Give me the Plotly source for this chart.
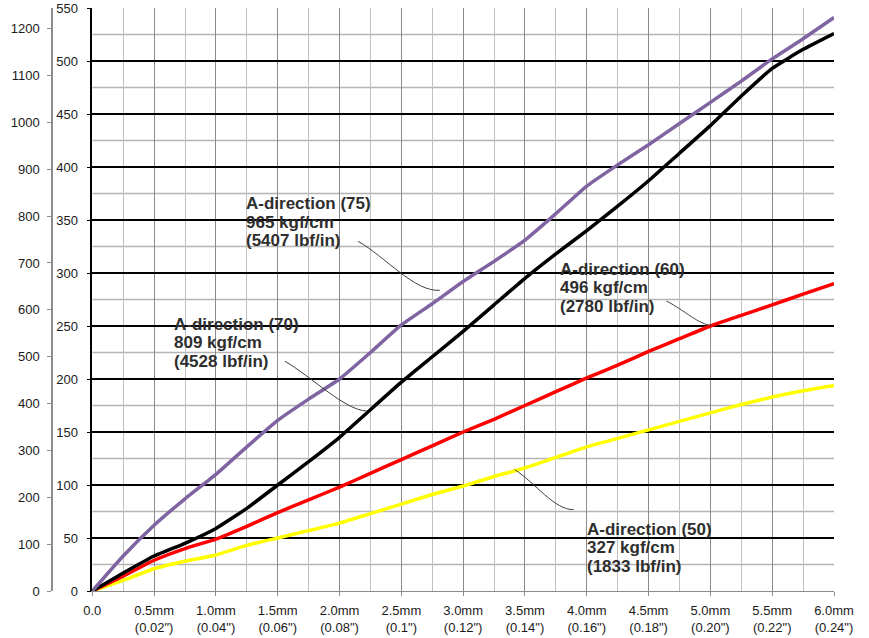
import plotly.graph_objects as go

# ---------------- data ----------------
x_mm = [0, 0.25, 0.5, 0.75, 1.0, 1.25, 1.5, 1.75, 2.0, 2.25, 2.5, 2.75, 3.0,
        3.25, 3.5, 3.75, 4.0, 4.25, 4.5, 4.75, 5.0, 5.25, 5.5, 5.75, 6.0]

a75 = [0, 33, 62, 87, 110, 136, 161, 181, 200, 225, 251, 271, 292,
       311, 331, 356, 382, 402, 421, 441, 461, 481, 502, 521, 541]
a70 = [0, 17, 33, 45, 59, 78, 100, 122, 145, 171, 197, 221, 245,
       270, 295, 318, 340, 363, 387, 413, 439, 467, 493, 511, 526]
a60 = [0, 14, 29, 40, 49, 61, 74, 86, 98, 111, 124, 137, 150,
       162, 175, 188, 201, 213, 226, 238, 250, 260, 270, 280, 290]
a50 = [0, 10, 21, 28, 34, 43, 50, 57, 64, 73, 82, 91, 99,
       108, 116, 126, 136, 144, 152, 160, 168, 176, 183, 189, 194]

x_tickvals = [0, 0.5, 1.0, 1.5, 2.0, 2.5, 3.0, 3.5, 4.0, 4.5, 5.0, 5.5, 6.0]
x_ticktext = ["0.0", "0.5mm<br>(0.02\")", "1.0mm<br>(0.04\")", "1.5mm<br>(0.06\")",
              "2.0mm<br>(0.08\")", "2.5mm<br>(0.1\")", "3.0mm<br>(0.12\")",
              "3.5mm<br>(0.14\")", "4.0mm<br>(0.16\")", "4.5mm<br>(0.18\")",
              "5.0mm<br>(0.20\")", "5.5mm<br>(0.22\")", "6.0mm<br>(0.24\")"]
kgf_ticks = [0, 50, 100, 150, 200, 250, 300, 350, 400, 450, 500, 550]
kgf_minor = [25, 75, 125, 175, 225, 275, 325, 375, 425, 475, 525]
lbf_ticks = [0, 100, 200, 300, 400, 500, 600, 700, 800, 900, 1000, 1100, 1200]

labels = [
    (["A-direction (75)", "965 kgf/cm", "(5407 lbf/in)"], 1.248, 348),
    (["A-direction (70)", "809 kgf/cm", "(4528 lbf/in)"], 0.669, 234),
    (["A-direction (60)", "496 kgf/cm", "(2780 lbf/in)"], 3.795, 286),
    (["A-direction (50)", "327 kgf/cm", "(1833 lbf/in)"], 4.010, 41),
]
leaders = [
    "M 2.150 329.9 C 2.366 315.8, 2.609 281.8, 2.811 283.7",
    "M 1.558 216.7 C 1.760 203.5, 2.043 170.5, 2.218 169.8",
    "M 4.644 273.6 C 4.791 264.8, 4.913 250.7, 5.010 250.7",
    "M 3.417 114.5 C 3.579 102.5, 3.741 76.1, 3.894 76.8",
]

FONT = "Liberation Sans, Arial, sans-serif"

fig = go.Figure()
series = [
    (a50, "#FFFF00"),
    (a60, "#FF0000"),
    (a70, "#000000"),
    (a75, "#8064A2"),
]
for ys, col in series:
    fig.add_trace(go.Scatter(x=x_mm, y=ys, mode="lines",
                             line=dict(color=col, width=3.5, shape="spline", smoothing=0.4),
                             hoverinfo="skip", showlegend=False))
# dummy trace so the outer (lbf) axis is drawn
fig.add_trace(go.Scatter(x=[None], y=[None], yaxis="y2", showlegend=False, hoverinfo="skip"))

# light minor horizontal grid (every 25 kgf)
for v in kgf_minor:
    fig.add_shape(type="line", xref="x", x0=0, x1=6, yref="y", y0=v, y1=v,
                  layer="below", line=dict(color="#b4b4b4", width=1.6))

LINE_PX = 18.5
for lines, xx, yy in labels:
    for i, t in enumerate(lines):
        fig.add_annotation(x=xx, y=yy, xref="x", yref="y", text="<b>" + t + "</b>",
                           showarrow=False, xanchor="left", yanchor="middle", align="left",
                           xshift=-3, yshift=LINE_PX * (1 - i),
                           font=dict(family=FONT, size=17, color="#2e2e2e"))
for p in leaders:
    fig.add_shape(type="path", path=p, xref="x", yref="y",
                  line=dict(color="#404040", width=1))

L, R = 10, 35
W, H = 869, 638
pw = W - L - R

fig.update_layout(
    width=W, height=H,
    margin=dict(l=L, r=R, t=8, b=47, autoexpand=False),
    paper_bgcolor="white", plot_bgcolor="rgba(0,0,0,0)",
    font=dict(family=FONT, size=13, color="#1a1a1a"),
    xaxis=dict(
        domain=[(92.3 - L) / pw, 1], range=[0, 6], tickvals=x_tickvals, ticktext=x_ticktext,
        showgrid=True, gridcolor="#8c8c8c", gridwidth=1,
        minor=dict(tickmode="linear", tick0=0, dtick=0.25, showgrid=True,
                   gridcolor="#c0c0c0", gridwidth=1),
        showline=True, linecolor="#8c8c8c", linewidth=1,
        ticks="outside", ticklen=4, tickcolor="#8c8c8c", ticklabelstandoff=3,
        zeroline=False, tickfont=dict(size=13), automargin=False,
    ),
    yaxis=dict(
        range=[0, 550], tickvals=kgf_ticks, showgrid=True, gridcolor="#000000", gridwidth=1.5,
        showline=True, linecolor="#000000", linewidth=1.5,
        ticks="outside", ticklen=4, tickcolor="#000000", ticklabelstandoff=6,
        zeroline=False, tickfont=dict(size=13), automargin=False,
    ),
    yaxis2=dict(
        overlaying="y", anchor="free", position=(52 - L) / pw, side="left",
        range=[0, 1244], tickvals=lbf_ticks,
        showgrid=False, zeroline=False,
        showline=True, linecolor="#8c8c8c", linewidth=1.5,
        ticks="outside", ticklen=4, tickcolor="#8c8c8c", ticklabelstandoff=5,
        tickfont=dict(size=13), automargin=False,
    ),
)

fig.write_html("out.html", config={"displayModeBar": False},
               post_script="document.body.style.margin='0';")
